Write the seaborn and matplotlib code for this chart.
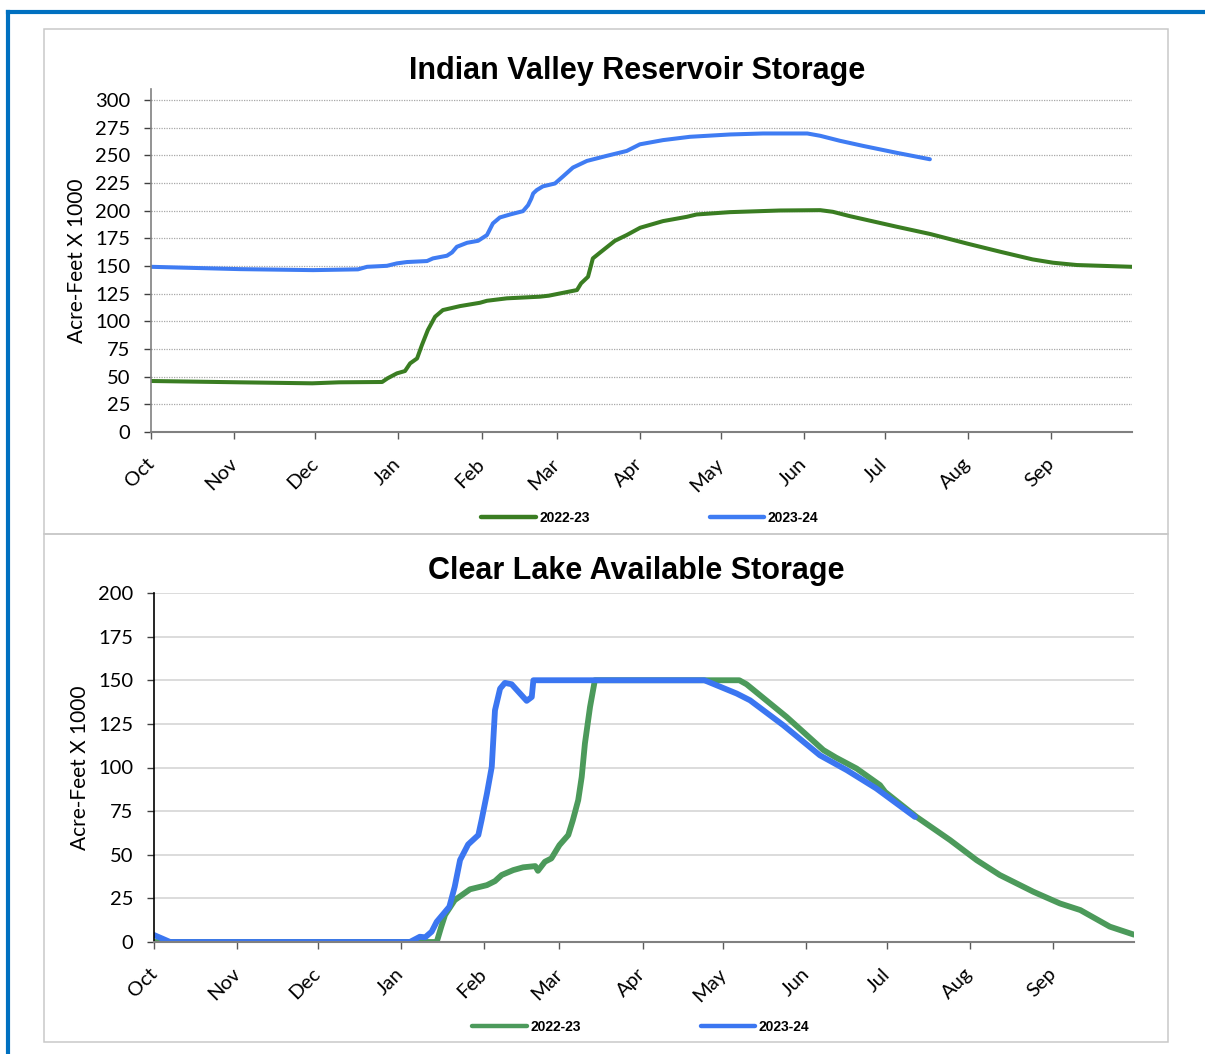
import numpy as np
import pandas as pd
import matplotlib
matplotlib.use("Agg")
import matplotlib.pyplot as plt
import seaborn as sns
from matplotlib.patches import Rectangle
from matplotlib.lines import Line2D

# ---------------- data ----------------
months = ["Oct", "Nov", "Dec", "Jan", "Feb", "Mar", "Apr", "May", "Jun", "Jul", "Aug", "Sep"]
month_start_day = [0, 31, 61, 92, 123, 151, 182, 212, 243, 273, 304, 335]
seasons = ["2022-23", "2023-24"]

# Indian Valley Reservoir Storage (day of water year, acre-feet x 1000)
iv_2223_day = [0, 33, 60, 70, 86, 88, 91.5, 94.5, 96.4, 99, 100.8, 103, 105.7, 108.6, 115, 122.4,
               125, 132.4, 144.7, 148, 158.5, 160, 162.6, 164.4, 167, 172.6, 177, 182, 190.5,
               199.4, 203, 215.4, 234, 249, 253.7, 260, 277.5, 290, 303.5, 316, 328, 335.6,
               344.5, 365]
iv_2223_val = [46.1, 44.9, 44.0, 44.9, 45.2, 48.5, 53.0, 55.1, 62.0, 66.5, 78.6, 92.1, 104.2,
               110.2, 113.8, 116.8, 118.6, 120.8, 122.3, 123.2, 128.3, 134.3, 140.3, 156.9,
               162.0, 172.8, 178.0, 184.6, 190.6, 194.5, 196.6, 198.7, 200.2, 200.5, 199.0,
               195.1, 185.5, 178.9, 170.4, 162.9, 156.0, 153.0, 150.9, 149.3]
iv_2324_day = [0, 33.1, 60.3, 77, 80.4, 87.8, 91.5, 95.2, 102.7, 104.9, 110.1, 112, 113.8, 117.6,
               121.7, 125, 127.2, 129.8, 133.6, 138.4, 140.3, 141.5, 142.2, 143.5, 145.8, 150.3,
               153.3, 157, 162.2, 169.6, 177, 181.9, 190.5, 200.5, 215.4, 227.7, 244.2, 249,
               256.3, 264.9, 277.5, 289.8]
iv_2324_val = [149.3, 147.2, 146.3, 147.0, 149.3, 150.2, 152.4, 153.6, 154.5, 156.9, 159.3, 162.3,
               167.4, 171.0, 172.8, 178.0, 188.5, 193.9, 196.6, 199.6, 205.0, 211.0, 215.6,
               218.6, 222.0, 224.6, 231.0, 239.0, 245.0, 249.6, 254.0, 260.0, 263.8, 266.8,
               268.9, 269.8, 269.8, 267.7, 263.2, 258.6, 252.3, 246.5]

# Clear Lake Available Storage
cl_2223_day = [0, 105.3, 107, 108.4, 112, 117.7, 124, 127, 129.5, 133.8, 137.5, 142, 143, 145.6,
               148, 151, 154.3, 156, 158, 159.3, 160.5, 162.4, 164.2, 218, 220.7, 235.6, 249.3,
               254, 261.7, 270.4, 272.3, 284, 296.5, 306.4, 315, 327.5, 337.4, 345, 356, 365]
cl_2223_val = [0, 0, 8.8, 15.5, 24.0, 30.2, 32.6, 34.9, 38.4, 41.2, 42.8, 43.5, 40.8, 46.0, 47.9,
               55.5, 61.3, 69.8, 81.3, 94.6, 113.8, 134.7, 150, 150, 147.7, 129.0, 110.0, 105.7,
               99.4, 89.9, 86.0, 71.7, 58.4, 46.9, 38.4, 28.8, 22.1, 18.3, 8.8, 4.2]
cl_2324_day = [0, 6, 95.3, 99, 101, 103.4, 105.3, 110, 112, 114, 117, 120.8, 122, 124, 125.8, 127,
               128.9, 130.7, 133.2, 138.8, 140.7, 141.3, 205, 217, 222, 234.4, 248, 258, 269,
               283.4]
cl_2324_val = [4, 0, 0, 3.0, 2.7, 5.9, 11.6, 20.2, 31.7, 47.0, 55.9, 61.3, 69.8, 85.1, 100.4,
               132.8, 145.2, 148.5, 147.7, 138.2, 140.4, 150, 150, 142.4, 138.5, 124.2, 107.0,
               98.5, 88.0, 71.7]

iv_colors = ["#3A7D22", "#3F7CF3"]
cl_colors = ["#4C9A5B", "#3B76F1"]

def long_df(d1, v1, d2, v2):
    return pd.concat([
        pd.DataFrame({"day": d1, "value": v1, "season": seasons[0]}),
        pd.DataFrame({"day": d2, "value": v2, "season": seasons[1]}),
    ], ignore_index=True)

iv_df = long_df(iv_2223_day, iv_2223_val, iv_2324_day, iv_2324_val)
cl_df = long_df(cl_2223_day, cl_2223_val, cl_2324_day, cl_2324_val)

# ---------------- figure ----------------
sns.set_style("white")
plt.rcParams['font.family'] = ['Lato', 'DejaVu Sans']
plt.rcParams['text.color'] = 'black'
plt.rcParams['axes.labelcolor'] = 'black'
plt.rcParams['xtick.color'] = 'black'
plt.rcParams['ytick.color'] = 'black'

W, H = 1205, 1054
fig = plt.figure(figsize=(W / 100, H / 100), dpi=100)

def fx(x):
    return x / W

def fy(y):
    return 1 - y / H

# outer blue frame (top and left edges)
fig.add_artist(Line2D([fx(8), fx(8)], [0, fy(12)], transform=fig.transFigure,
                      color="#0070C0", lw=3, solid_capstyle="projecting"))
fig.add_artist(Line2D([fx(8), 1], [fy(12), fy(12)], transform=fig.transFigure,
                      color="#0070C0", lw=3, solid_capstyle="projecting"))
# panel boxes
for (y0, y1) in [(29, 534), (534, 1042)]:
    fig.add_artist(Rectangle((fx(44), fy(y1)), fx(1168) - fx(44), fy(y0) - fy(y1),
                             transform=fig.transFigure, fill=False, edgecolor="#C9C9C9", lw=1.1))

def style_axes(ax, grid_style, ymax, yticks, spine_color):
    ax.set_xlim(0, 365)
    ax.set_ylim(0, ymax)
    ax.set_yticks(yticks)
    ax.set_yticklabels([str(t) for t in yticks])
    ax.set_xticks(month_start_day)
    ax.set_xticklabels(months, rotation=45, ha="right", va="center", rotation_mode="anchor")
    ax.tick_params(axis="x", length=5, width=1, color="#595959", labelcolor="black", pad=16,
                   labelsize=14.5, direction="out", bottom=True)
    ax.tick_params(axis="y", length=5, width=1, color="#404040", labelcolor="black", pad=10,
                   labelsize=14.5, direction="out", left=True)
    for s in ["top", "right"]:
        ax.spines[s].set_visible(False)
    ax.spines["left"].set_color(spine_color)
    ax.spines["bottom"].set_color("#808080")
    ax.spines["left"].set_linewidth(1.2)
    ax.spines["bottom"].set_linewidth(1.5)
    ax.yaxis.grid(True, **grid_style)
    ax.xaxis.grid(False)
    ax.set_axisbelow(True)
    ax.set_xlabel("")
    ax.set_ylabel("Acre-Feet X 1000", fontsize=15, labelpad=6, color="black")

# ---- top panel ----
ax1 = fig.add_axes([fx(151), fy(432), fx(1132) - fx(151), fy(89) - fy(432)])
sns.lineplot(data=iv_df, x="day", y="value", hue="season", palette=iv_colors,
             estimator=None, legend=False, lw=2.9, ax=ax1)
style_axes(ax1, dict(linestyle=(0, (1, 1)), color="#A8A8A8", lw=0.9), 310,
           list(range(0, 301, 25)), "#808080")
fig.text(fx(637), fy(67), "Indian Valley Reservoir Storage", ha="center", va="center_baseline",
         fontsize=22, fontweight="bold", family="Liberation Sans", color="black")

# ---- bottom panel ----
ax2 = fig.add_axes([fx(154), fy(942), fx(1134) - fx(154), fy(593) - fy(942)])
sns.lineplot(data=cl_df, x="day", y="value", hue="season", palette=cl_colors,
             estimator=None, legend=False, lw=4.2, ax=ax2)
style_axes(ax2, dict(linestyle="-", color="#D9D9D9", lw=1.3), 200,
           list(range(0, 201, 25)), "#000000")
fig.text(fx(636), fy(567), "Clear Lake Available Storage", ha="center", va="center_baseline",
         fontsize=22, fontweight="bold", family="Liberation Sans", color="black")

# legends
for cols, cx, cy in [(iv_colors, 650, 518), (cl_colors, 641, 1027)]:
    handles = [Line2D([0], [0], color=c, lw=3.2, solid_capstyle="round") for c in cols]
    leg = fig.legend(handles, seasons, loc="center", bbox_to_anchor=(fx(cx), fy(cy)), ncol=2,
                     frameon=False, handlelength=3.9, handletextpad=0.3, columnspacing=8.6,
                     prop=dict(family="Liberation Sans", weight="bold", size=10))
    for t in leg.get_texts():
        t.set_color("black")

fig.savefig("out.png", dpi=100)
